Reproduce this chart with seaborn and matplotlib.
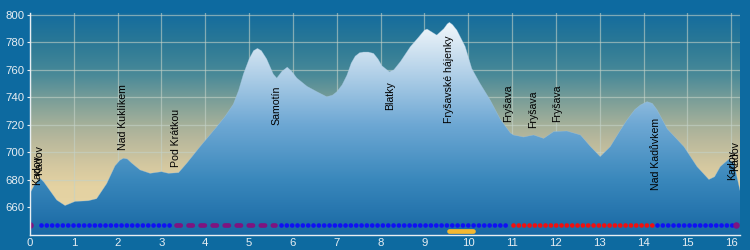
import numpy as np
import pandas as pd
import matplotlib
matplotlib.use("Agg")
import matplotlib.pyplot as plt
from matplotlib.colors import LinearSegmentedColormap
import seaborn as sns

# ---- data ----
km = [0.0, 0.1, 0.23, 0.32, 0.42, 0.61, 0.8, 1.03, 1.33, 1.52, 1.75, 1.94, 2.05, 2.13,
      2.22, 2.32, 2.51, 2.74, 3.0, 3.16, 3.39, 3.58, 3.88, 4.26, 4.45, 4.64, 4.76, 4.87,
      5.0, 5.1, 5.19, 5.28, 5.4, 5.55, 5.63, 5.75, 5.87, 5.97, 6.09, 6.32, 6.55, 6.77,
      6.9, 7.0, 7.12, 7.23, 7.33, 7.42, 7.52, 7.61, 7.72, 7.84, 7.94, 8.03, 8.2, 8.3,
      8.45, 8.68, 8.87, 9.0, 9.06, 9.15, 9.28, 9.44, 9.52, 9.57, 9.64, 9.74, 9.93,
      10.08, 10.27, 10.5, 10.73, 10.96, 11.03, 11.26, 11.49, 11.72, 11.95, 12.25,
      12.56, 12.79, 13.01, 13.24, 13.45, 13.62, 13.8, 13.93, 14.08, 14.2, 14.31, 14.54,
      14.92, 15.22, 15.49, 15.62, 15.75, 15.94, 16.06, 16.2]
elev = [670, 676, 681, 678, 673.5, 665, 661, 664, 664.5, 666, 677, 690, 694, 695.5,
        695, 692, 687, 684.5, 685.7, 684.5, 685, 692, 704, 718.5, 726, 735, 745, 757,
        768, 774, 775.7, 774, 768, 757, 754, 759, 762, 759, 754, 748, 744, 740.4,
        741.5, 744, 749, 756, 765, 770, 772.5, 773, 773, 772, 768, 763, 758.6, 760,
        766, 777, 784, 789, 789.8, 788, 785.4, 790, 793.5, 794.7, 793, 789, 777,
        761, 750, 738, 724, 714, 712.5, 711, 712.5, 710, 715, 715.4,
        712.5, 704, 696.7, 704, 715, 723.4, 731, 734.4, 736.8, 735.5, 730.7, 717,
        704, 689.4, 680, 682, 689.4, 694.7, 692, 672]

place_names = ["Kadov", "Kadov", "Nad Kuklíkem", "Pod Krátkou", "Samotín", "Blatky",
               "Fryšavské hájenky", "Fryšava", "Fryšava", "Fryšava", "Nad Kadůvkem",
               "Kadov", "Kadov"]
place_km = [0.16, 0.2, 2.12, 3.33, 5.62, 8.22, 9.56, 10.92, 11.47, 12.02, 14.29, 16.02, 16.09]
place_elev = [676, 683, 701.5, 689.4, 719.8, 730.7, 721, 722.2, 717.4, 722.2, 672.4, 679.6, 686]

seg_start = [0.24, 3.32, 5.72, 11.02, 14.3]
seg_end = [3.2, 5.6, 10.95, 14.25, 16.02]
seg_kind = ["blue", "purple", "blue", "red", "blue"]
point_km = [0.0, 16.1]
marker_elev = 647
bar_start, bar_end, bar_elev = 9.55, 10.1, 642.4

x_ticks = list(range(0, 17))
y_ticks = list(range(660, 801, 20))

# ---- figure ----
fig = plt.figure(figsize=(7.5, 2.5), dpi=100)
fig.patch.set_facecolor("#0d6aa0")
ax = fig.add_axes([30 / 750, 15 / 250, 710 / 750, 222 / 250])
xmin, xmax, ymin, ymax = 0, 16.2, 639.5, 801.5
ax.set_xlim(xmin, xmax)
ax.set_ylim(ymin, ymax)

# background gradient (blue top -> beige bottom)
bg_cmap = LinearSegmentedColormap.from_list(
    "bg", [(0.0, "#e8d6a6"), (0.22, "#e4d2a2"), (0.31, "#d4c8a0"), (0.43, "#b8b89c"),
           (0.50, "#a4b09a"), (0.61, "#7a9e98"), (0.72, "#4a8a98"), (0.87, "#2a7896"),
           (1.0, "#146c9e")])
grad = np.linspace(0, 1, 256).reshape(-1, 1)
ax.imshow(grad, cmap=bg_cmap, origin="lower", aspect="auto",
          extent=[xmin, xmax, ymin, ymax], zorder=0)

ax.grid(True, color="#c4d2c8", alpha=0.6, linewidth=0.9, zorder=1)
ax.set_axisbelow(True)

# fill under the profile with a vertical gradient
fill_cmap = LinearSegmentedColormap.from_list(
    "fill", [(0.0, "#1868a4"), (0.25, "#3a88bc"), (0.5, "#6ea8d4"),
             (0.75, "#b8d4ea"), (0.95, "#f0f6fa"), (1.0, "#ffffff")])
poly = ax.fill_between(km, elev, ymin, facecolor="none", edgecolor="none")
im = ax.imshow(grad, cmap=fill_cmap, origin="lower", aspect="auto",
               extent=[xmin, xmax, ymin, ymax], zorder=2)
im.set_clip_path(poly.get_paths()[0], transform=ax.transData)

prof = pd.DataFrame({"km": km, "elev": elev})
sns.lineplot(data=prof, x="km", y="elev", ax=ax, color="#a8c8e0", linewidth=0.4,
             alpha=0.5, zorder=3, sort=False)

# place labels
for name, x, y in zip(place_names, place_km, place_elev):
    ax.text(x, y, name, rotation=90, ha="center", va="bottom", fontsize=7.6,
            family="Liberation Sans", color="black", zorder=5)

# route segment markers
colors = {"blue": "#1010f4", "purple": "#7e1480", "red": "#f01010"}
for s, e, k in zip(seg_start, seg_end, seg_kind):
    seg = pd.DataFrame({"km": [s, e], "elev": [marker_elev, marker_elev]})
    if k == "purple":
        ls = (0, (0.9, 1.65))
    else:
        ls = (0, (0.01, 1.12))
    sns.lineplot(data=seg, x="km", y="elev", ax=ax, color=colors[k], linewidth=3.4,
                 linestyle=ls, dash_capstyle="round", zorder=4)
pts = pd.DataFrame({"km": point_km, "elev": [marker_elev] * len(point_km)})
sns.scatterplot(data=pts, x="km", y="elev", ax=ax, color=colors["purple"], s=22,
                linewidth=0, zorder=4)
bar = pd.DataFrame({"km": [bar_start, bar_end], "elev": [bar_elev, bar_elev]})
sns.lineplot(data=bar, x="km", y="elev", ax=ax, color="#f4b830", linewidth=3.4,
             solid_capstyle="round", zorder=4)

# axes styling
ax.set_xticks(x_ticks)
ax.set_yticks(y_ticks)
ax.set_xlabel("")
ax.set_ylabel("")
for sp in ["top", "right"]:
    ax.spines[sp].set_visible(False)
for sp in ["left", "bottom"]:
    ax.spines[sp].set_color("#e8eef2")
    ax.spines[sp].set_linewidth(1.0)
    ax.spines[sp].set_zorder(6)
ax.tick_params(axis="both", colors="#e8eef2", labelsize=8.2, length=2.5, width=0.8,
               pad=1.5)
ax.tick_params(axis="x", length=0, pad=2)
for lab in ax.get_xticklabels() + ax.get_yticklabels():
    lab.set_family("Liberation Sans")
    lab.set_color("#e8eef2")

fig.savefig("out.png", dpi=100, facecolor=fig.get_facecolor())
